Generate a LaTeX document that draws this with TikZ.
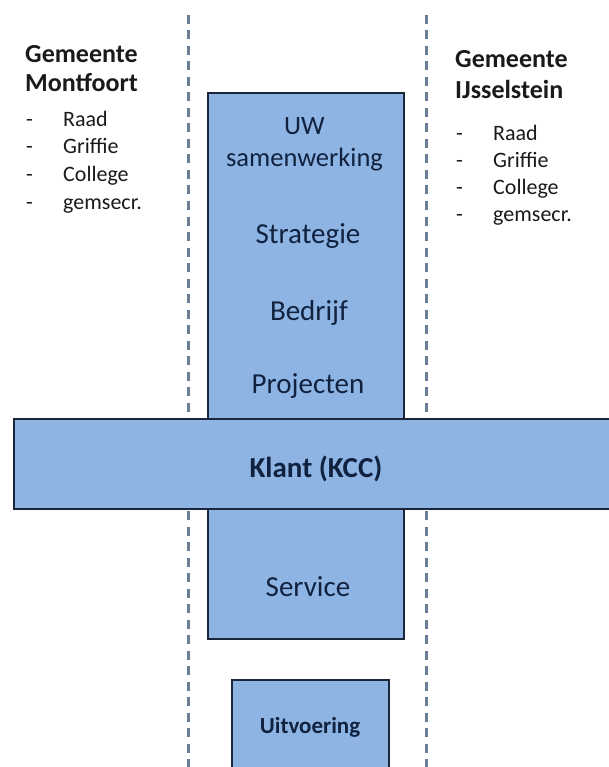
\documentclass[tikz,border=0pt]{standalone}
\usepackage{fontspec}
\setmainfont{Carlito}
\definecolor{boxfill}{HTML}{8EB4E3}
\definecolor{boxline}{HTML}{1B2738}
\definecolor{boxtext}{HTML}{10223F}
\definecolor{sepline}{HTML}{6A7E96}
\definecolor{plaintext}{HTML}{1A1A1A}
\tikzset{
  unitbox/.style={draw=boxline, line width=2pt, fill=boxfill, inner sep=0pt, anchor=north west},
  separator/.style={draw=sepline, line width=3pt, dash pattern=on 9pt off 6.5pt},
  boxlabel/.style={anchor=base, inner sep=0pt, text=boxtext, font=\fontsize{29}{34}\selectfont},
  boxlabelsmall/.style={anchor=base, inner sep=0pt, text=boxtext, font=\fontsize{26.5}{31}\selectfont},
  title/.style={anchor=base west, inner sep=0pt, text=plaintext, font=\bfseries\fontsize{26}{30}\selectfont},
  item/.style={anchor=base west, inner sep=0pt, text=plaintext, font=\fontsize{22}{26}\selectfont},
}
\begin{document}
\begin{tikzpicture}[x=1pt, y=-1pt]
  \useasboundingbox (0,0) rectangle (609,767);
  \clip (0,0) rectangle (609,767);
  \fill[white] (0,0) rectangle (609,767);

  % dashed borders between the municipalities
  \coordinate (lsTop) at (188,15);
  \coordinate (lsBot) at (188,775);
  \coordinate (rsTop) at (426,15);
  \coordinate (rsBot) at (426,775);
  \draw[separator] (lsTop) -- (lsBot);
  \draw[separator] (rsTop) -- (rsBot);

  % central column, customer band and execution block
  \node[unitbox, minimum width=196pt, minimum height=546pt] (main) at (206.5,92) {};
  \node[unitbox, minimum width=620pt, minimum height=90pt] (klant) at (13,418) {};
  \node[unitbox, minimum width=157pt, minimum height=120pt] (uitv) at (231,679) {};

  % labels inside the column
  \node[boxlabelsmall] (uw) at (304.5,135) {UW};
  \node[boxlabelsmall] (samen) at (304.5,167) {samenwerking};
  \node[boxlabel] (strat) at (308,243) {Strategie};
  \node[boxlabel] (bedr) at (309,320) {Bedrijf};
  \node[boxlabel] (proj) at (308,393) {Projecten};
  \node[boxlabel, font=\bfseries\fontsize{29}{34}\selectfont] (kcc) at (316,477) {Klant (KCC)};
  \node[boxlabel] (serv) at (308,596) {Service};
  \node[boxlabel, font=\bfseries\fontsize{23}{28}\selectfont] (uitvl) at (310,733) {Uitvoering};

  % municipality Montfoort
  \node[title] (mfA) at (25,63) {Gemeente};
  \node[title] (mfB) at (25,92) {Montfoort};
  \foreach \y/\t [count=\i] in {127/Raad,154/Griffie,182/College,209/gemsecr.}{
    \node[item] (mfd\i) at (26,\y) {-};
    \node[item] (mft\i) at (63,\y) {\t};
  }

  % municipality IJsselstein
  \node[title] (ijA) at (455,68) {Gemeente};
  \node[title] (ijB) at (455,99) {IJsselstein};
  \foreach \y/\t [count=\i] in {141/Raad,168/Griffie,195/College,222/gemsecr.}{
    \node[item] (ijd\i) at (456,\y) {-};
    \node[item] (ijt\i) at (493,\y) {\t};
  }
\end{tikzpicture}
\end{document}
